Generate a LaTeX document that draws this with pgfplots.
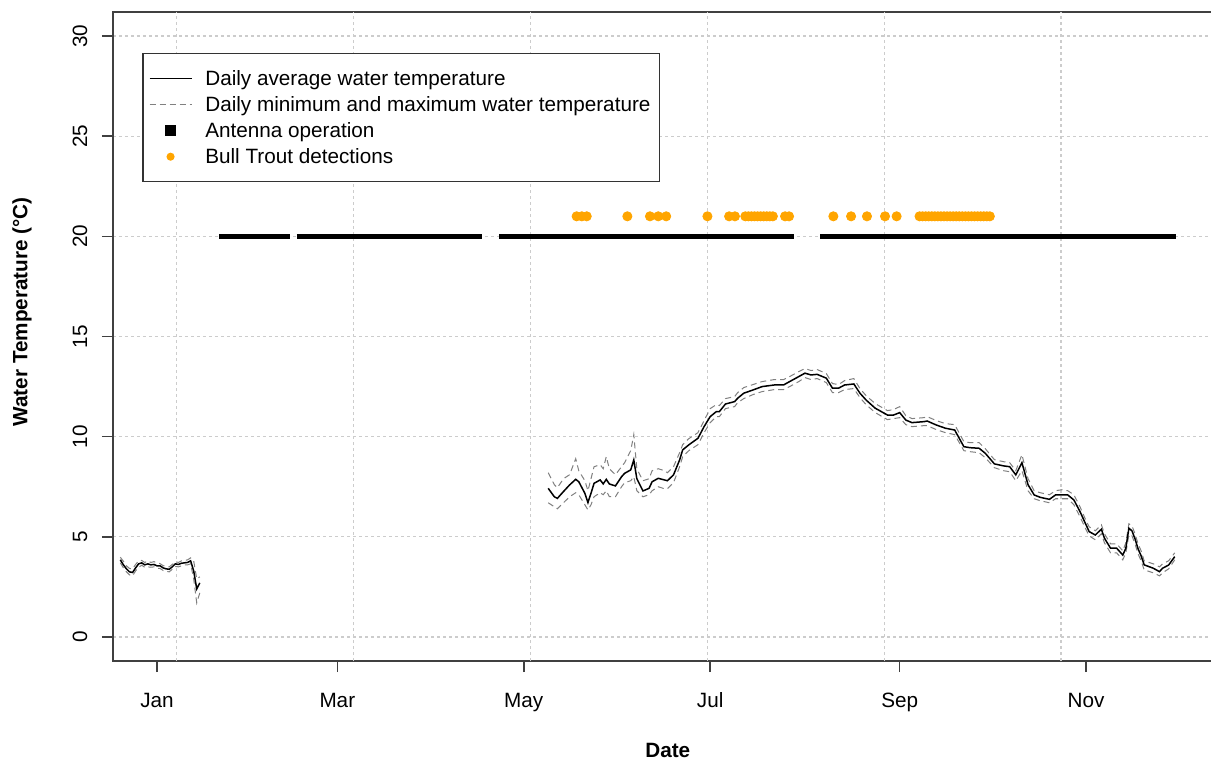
\documentclass[border=0pt]{standalone}
\usepackage{fontspec}
\setmainfont{Liberation Sans}
\usepackage{pgfplots}
\usepackage{pgfplotstable}
\pgfplotsset{compat=1.18}
\definecolor{rorange}{HTML}{FFA500}
\newcommand{\fs}{\fontsize{10.35}{12}\selectfont}
\pgfplotstableread{
d avg lo hi
-12 3.85 3.70 3.98
-11 3.60 3.45 3.78
-10 3.40 3.25 3.55
-9 3.25 3.10 3.42
-8 3.22 3.05 3.40
-7 3.45 3.30 3.62
-6 3.65 3.48 3.80
-5 3.70 3.58 3.82
-4 3.60 3.48 3.72
-3 3.65 3.50 3.80
-2 3.60 3.48 3.72
-1 3.62 3.50 3.76
0 3.55 3.42 3.70
1 3.55 3.42 3.66
2 3.45 3.32 3.56
3 3.40 3.28 3.52
4 3.38 3.25 3.50
5 3.50 3.38 3.62
6 3.65 3.52 3.76
7 3.62 3.50 3.72
8 3.68 3.55 3.80
9 3.70 3.60 3.82
10 3.72 3.60 3.85
11 3.80 3.65 3.95
12 3.30 2.90 3.80
13 2.40 1.70 2.90
14 2.70 2.20 3.00
}\segA
\pgfplotstableread{
d avg lo hi
128 7.42 6.70 8.20
130 7.00 6.50 7.60
131 6.92 6.40 7.45
133 7.26 6.70 7.90
135 7.59 7.00 8.10
137 7.87 7.20 8.90
138 7.75 7.10 8.30
140 7.17 6.60 7.80
141 6.71 6.34 7.30
142 7.17 6.60 7.90
143 7.67 7.00 8.50
145 7.84 7.20 8.60
146 7.64 7.10 8.40
147 7.87 7.30 9.00
148 7.64 7.00 8.40
150 7.54 7.00 8.10
152 8.00 7.50 8.50
153 8.17 7.70 8.70
155 8.34 7.80 9.30
156 8.84 8.00 10.10
157 7.90 7.30 8.40
159 7.29 7.00 7.80
161 7.42 7.10 7.90
162 7.75 7.30 8.30
164 7.92 7.50 8.40
166 7.84 7.40 8.30
167 7.80 7.40 8.20
169 8.09 7.70 8.50
171 8.84 8.50 9.20
172 9.34 9.00 9.60
174 9.59 9.30 9.90
177 9.92 9.60 10.20
179 10.50 10.20 10.80
181 11.00 10.70 11.40
183 11.25 11.00 11.60
184 11.25 11.00 11.55
186 11.63 11.40 11.90
189 11.75 11.50 12.00
190 11.92 11.70 12.20
192 12.17 11.90 12.45
195 12.33 12.10 12.60
198 12.50 12.25 12.75
202 12.58 12.35 12.85
205 12.58 12.35 12.85
207 12.75 12.50 13.00
210 13.00 12.75 13.25
212 13.17 12.95 13.40
214 13.08 12.85 13.30
216 13.11 12.90 13.35
219 12.92 12.70 13.15
221 12.42 12.20 12.65
223 12.42 12.20 12.60
225 12.58 12.35 12.80
228 12.63 12.40 12.90
230 12.17 11.95 12.40
232 11.83 11.60 12.05
235 11.42 11.20 11.65
239 11.08 10.85 11.30
241 11.08 10.90 11.35
243 11.20 10.95 11.50
245 10.83 10.60 11.05
247 10.70 10.50 10.90
251 10.75 10.55 10.95
252 10.78 10.55 11.00
255 10.58 10.35 10.80
258 10.42 10.20 10.65
261 10.33 10.10 10.60
264 9.50 9.30 9.75
266 9.45 9.25 9.70
269 9.42 9.20 9.70
271 9.17 8.95 9.40
274 8.64 8.45 8.85
277 8.54 8.30 8.75
279 8.50 8.25 8.70
281 8.09 7.80 8.30
283 8.70 8.30 9.10
285 7.60 7.30 7.90
287 7.09 6.90 7.30
289 6.97 6.80 7.20
292 6.87 6.70 7.10
294 7.09 6.90 7.30
296 7.09 6.90 7.35
298 7.09 6.90 7.30
300 6.84 6.60 7.10
302 6.26 6.00 6.50
304 5.59 5.35 5.80
305 5.26 5.05 5.50
307 5.09 4.85 5.30
309 5.38 5.15 5.60
310 4.93 4.70 5.15
312 4.43 4.20 4.65
314 4.43 4.20 4.65
316 4.09 3.85 4.30
317 4.43 4.20 4.70
318 5.43 5.10 5.65
319 5.30 5.05 5.55
320 4.90 4.65 5.15
321 4.40 4.15 4.65
322 4.05 3.80 4.30
323 3.60 3.35 3.80
326 3.43 3.20 3.65
328 3.26 3.05 3.50
329 3.43 3.20 3.65
331 3.59 3.40 3.80
333 4.01 3.85 4.20
}\segB
\pgfplotstableread{
d t
137.3 21
139.0 21
140.6 21
153.9 21
161.3 21
164.0 21
166.6 21
180.1 21
187.2 21
189.1 21
192.5 21
193.5 21
194.5 21
195.5 21
196.5 21
197.5 21
198.5 21
199.5 21
200.5 21
201.5 21
205.5 21
206.8 21
221.3 21
227.1 21
232.3 21
238.2 21
242.0 21
249.5 21
250.5 21
251.5 21
252.5 21
253.5 21
254.5 21
255.5 21
256.5 21
257.5 21
258.5 21
259.5 21
260.5 21
261.5 21
262.5 21
263.5 21
264.5 21
265.5 21
266.5 21
267.5 21
268.5 21
269.5 21
270.5 21
271.5 21
272.5 21
}\detect
\begin{document}
\begin{tikzpicture}
\begin{axis}[
  scale only axis, width=551.5pt, height=324.5pt,
  xmin=-14.4, xmax=346.5, ymin=-1.2, ymax=31.2,
  axis line style={black!75, line width=0.8pt},
  tick pos=left, tick align=outside, major tick length=5.5pt,
  tick style={black!75, line width=0.8pt},
  xtick={0,59,120,181,243,304}, xticklabels={Jan,Mar,May,Jul,Sep,Nov},
  ytick={0,5,...,30},
  ymajorgrids,
  grid style={gray!40, line width=0.6pt, dash pattern=on 1.5pt off 1.5pt},
  extra x ticks={6.5,64.4,122.2,180.1,238.0,295.8},
  extra x tick labels={},
  extra x tick style={grid=major, major tick length=0pt},
  ticklabel style={font=\fs},
  /pgf/number format/assume math mode=true,
  yticklabel style={xshift=-11pt, rotate=90, anchor=center},
  xticklabel style={anchor=base, yshift=-17.5pt},
  label style={font=\fs},
  xlabel={\bfseries Date},
  xlabel style={at={(axis description cs:0.503,-0.138)}, anchor=center},
  ylabel={\bfseries Water Temperature (°C)},
  ylabel style={at={(axis description cs:-0.0825,0.538)}, anchor=center},
  legend style={at={(axis description cs:0.0263,0.937)}, anchor=north west,
    draw=black!80, line width=0.8pt, fill=white, font=\fs,
    inner xsep=3pt, inner ysep=6pt, row sep=0pt, column sep=5pt,
    nodes={inner sep=1.5pt, text height=8.5pt, text depth=1.5pt}},
  legend cell align=left,
]
\coordinate (SW) at (rel axis cs:0,0);
\coordinate (NE) at (rel axis cs:1,1);
\addlegendimage{legend image code/.code={\draw[black, line width=0.75pt] (0pt,0pt) -- (21pt,0pt);}}
\addlegendentry{Daily average water temperature}
\addlegendimage{legend image code/.code={\draw[gray, line width=0.5pt, dash pattern=on 3pt off 2pt] (0pt,0pt) -- (21pt,0pt);}}
\addlegendentry{Daily minimum and maximum water temperature}
\addlegendimage{legend image code/.code={\fill[black] (8.2pt,-2.3pt) rectangle (12.8pt,2.3pt);}}
\addlegendentry{Antenna operation}
\addlegendimage{legend image code/.code={\fill[rorange] (10.5pt,0pt) circle (1.6pt);}}
\addlegendentry{Bull Trout detections}

\addplot[forget plot, gray, line width=0.5pt, dash pattern=on 3pt off 2pt] table[x=d,y=lo]{\segA};
\addplot[forget plot, gray, line width=0.5pt, dash pattern=on 3pt off 2pt] table[x=d,y=hi]{\segA};
\addplot[forget plot, black, line width=0.75pt] table[x=d,y=avg]{\segA};
\addplot[forget plot, gray, line width=0.5pt, dash pattern=on 3pt off 2pt] table[x=d,y=lo]{\segB};
\addplot[forget plot, gray, line width=0.5pt, dash pattern=on 3pt off 2pt] table[x=d,y=hi]{\segB};
\addplot[forget plot, black, line width=0.75pt] table[x=d,y=avg]{\segB};

\addplot[forget plot, black, line width=2.6pt, line cap=butt] coordinates {(20.3,20) (43.5,20)};
\addplot[forget plot, black, line width=2.6pt, line cap=butt] coordinates {(45.8,20) (106.3,20)};
\addplot[forget plot, black, line width=2.6pt, line cap=butt] coordinates {(111.9,20) (208.4,20)};
\addplot[forget plot, black, line width=2.6pt, line cap=butt] coordinates {(217.0,20) (333.4,20)};

\addplot[forget plot, only marks, mark=*, mark size=2.3pt, color=rorange, mark options={draw=rorange, fill=rorange}] table[x=d,y=t]{\detect};
\end{axis}
\pgfresetboundingbox
\useasboundingbox ([xshift=-56.5pt,yshift=-50pt]SW) rectangle ([xshift=-2.5pt,yshift=6pt]NE);
\end{tikzpicture}
\end{document}
